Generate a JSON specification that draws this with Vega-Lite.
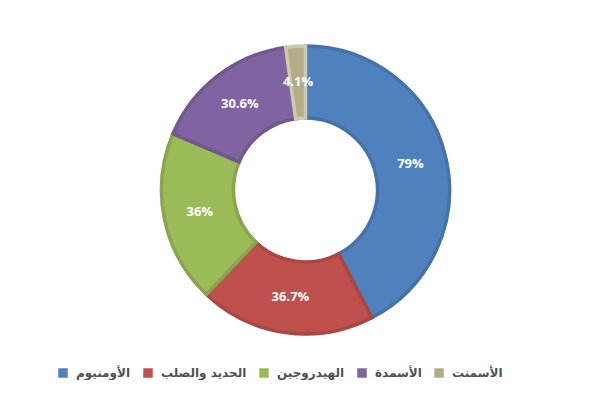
{
  "$schema": "https://vega.github.io/schema/vega-lite/v6.json",
  "width": 611,
  "height": 380,
  "padding": 0,
  "autosize": {"type": "none"},
  "background": "white",
  "config": {"view": {"stroke": null}},
  "data": {
    "values": [
      {"name": "الأومنيوم", "value": 79, "label": "79%", "rank": 1},
      {"name": "الحديد والصلب", "value": 36.7, "label": "36.7%", "rank": 2},
      {"name": "الهيدروجين", "value": 36, "label": "36%", "rank": 3},
      {"name": "الأسمدة", "value": 30.6, "label": "30.6%", "rank": 4},
      {"name": "الأسمنت", "value": 4.1, "label": "4.1%", "rank": 5}
    ]
  },
  "encoding": {
    "theta": {"field": "value", "type": "quantitative", "stack": true},
    "order": {"field": "rank", "type": "quantitative"}
  },
  "layer": [
    {
      "mark": {"type": "arc", "outerRadius": 144, "innerRadius": 72, "strokeWidth": 3.5},
      "encoding": {
        "color": {
          "field": "name",
          "type": "nominal",
          "sort": ["الأومنيوم", "الحديد والصلب", "الهيدروجين", "الأسمدة", "الأسمنت"],
          "scale": {
            "domain": ["الأومنيوم", "الحديد والصلب", "الهيدروجين", "الأسمدة", "الأسمنت"],
            "range": ["#4F81BD", "#C0504D", "#9BBB59", "#8064A2", "#B3AC86"]
          },
          "legend": {
            "title": null,
            "orient": "none",
            "direction": "horizontal",
            "legendX": 57,
            "legendY": 367,
            "symbolType": "square",
            "symbolSize": 90,
            "symbolStrokeWidth": 0,
            "labelFont": "DejaVu Sans",
            "labelFontSize": 12,
            "labelFontWeight": "bold",
            "labelColor": "#505050",
            "labelOffset": 7,
            "columnPadding": 11,
            "labelLimit": 200
          }
        },
        "stroke": {
          "field": "name",
          "type": "nominal",
          "scale": {
            "domain": ["الأومنيوم", "الحديد والصلب", "الهيدروجين", "الأسمدة", "الأسمنت"],
            "range": ["#4672AA", "#AA4643", "#89A54E", "#71588F", "#CFC9AE"]
          },
          "legend": null
        }
      }
    },
    {
      "mark": {"type": "text", "radius": 108, "font": "Open Sans", "fontSize": 13, "fontWeight": "bold", "color": "white"},
      "encoding": {
        "text": {"field": "label", "type": "nominal"}
      }
    }
  ]
}
